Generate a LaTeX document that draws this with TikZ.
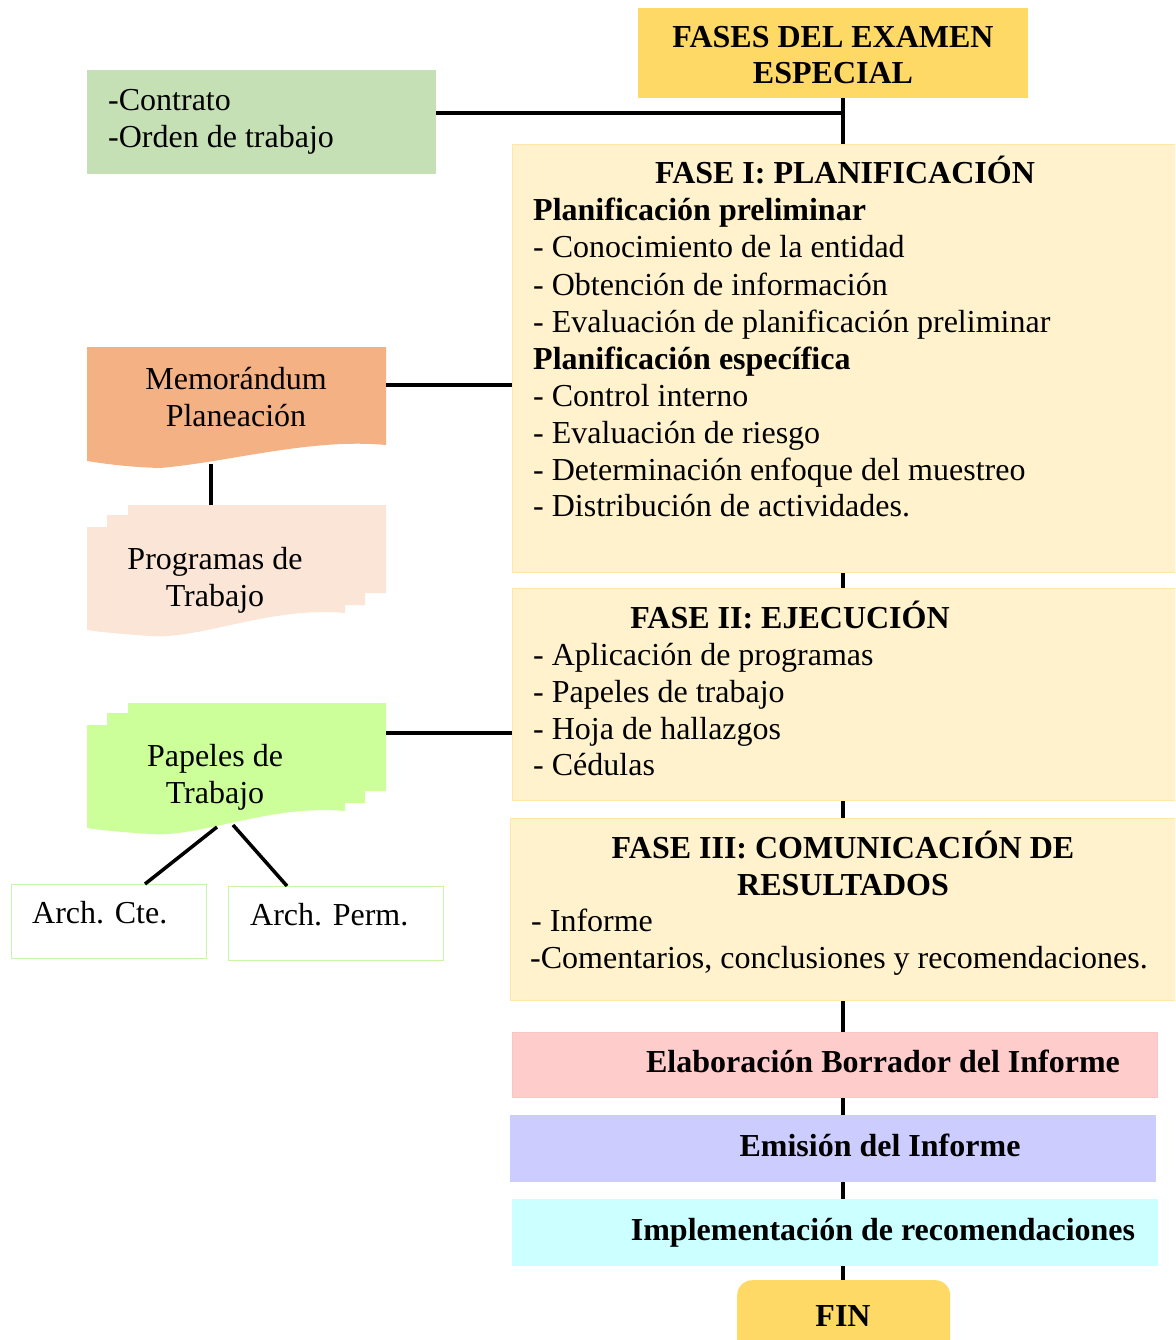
\documentclass[tikz,border=0pt]{standalone}
\usepackage{fontspec}
\setmainfont{Liberation Serif}
\definecolor{gold}{HTML}{FFD966}
\definecolor{contr}{HTML}{C5E0B4}
\definecolor{phase}{HTML}{FFF2CC}
\definecolor{phaseb}{HTML}{FFE8A6}
\definecolor{memoc}{HTML}{F4B183}
\definecolor{progc}{HTML}{FBE5D6}
\definecolor{papc}{HTML}{CCFF99}
\definecolor{archb}{HTML}{C8F5A8}
\definecolor{elab}{HTML}{FFCCCC}
\definecolor{emis}{HTML}{CCCCFF}
\definecolor{impl}{HTML}{CCFFFF}
\begin{document}
\begin{tikzpicture}[x=1pt,y=-1pt,
  t/.style={font=\fontsize{32}{37}\selectfont, inner sep=0pt, anchor=base west},
  tc/.style={t, anchor=base},
  tb/.style={t, font=\fontsize{32}{37}\selectfont\bfseries},
  tbc/.style={tb, anchor=base},
  conn/.style={line width=3.5pt, black},
  box/.style={rectangle, inner sep=0pt, anchor=north west},
]
\useasboundingbox (0,0) rectangle (1175,1340);
\clip (0,0) rectangle (1175,1340);

% ---------- boxes ----------
\node[box, fill=gold, minimum width=390pt, minimum height=90pt] (title) at (638,8) {};
\node[box, fill=contr, minimum width=349pt, minimum height=104pt] (contrato) at (87,70) {};
\node[box, fill=phase, draw=phaseb, line width=1pt, minimum width=663pt, minimum height=428pt] (f1) at (512,144) {};
\node[box, fill=phase, draw=phaseb, line width=1pt, minimum width=663pt, minimum height=212pt] (f2) at (512,588) {};
\node[box, fill=phase, draw=phaseb, line width=1pt, minimum width=665pt, minimum height=182pt] (f3) at (510,818) {};
\node[box, fill=elab, draw=elab!85!black!20!elab, line width=0.8pt, minimum width=645pt, minimum height=65pt] (elab) at (512,1032) {};
\node[box, fill=emis, draw=emis, line width=0.8pt, minimum width=645pt, minimum height=66pt] (emis) at (510,1115) {};
\node[box, fill=impl, draw=impl, line width=0.8pt, minimum width=645pt, minimum height=66pt] (impl) at (512,1199) {};
\node[box, fill=gold, rounded corners=15pt, minimum width=213pt, minimum height=90pt] (fin) at (737,1280) {};
\node[box, draw=archb, line width=1.2pt, fill=white, minimum width=195pt, minimum height=74pt] (cte) at (11,884) {};
\node[box, draw=archb, line width=1.2pt, fill=white, minimum width=215pt, minimum height=74pt] (perm) at (228,886) {};

% ---------- document shapes ----------
\fill[memoc] (87,347) -- (386,347) -- (386,445)
  .. controls (310,438) and (230,462) .. (160,468)
  .. controls (125,467) and (100,463) .. (87,461) -- cycle;
\node[box, minimum width=299pt, minimum height=98pt] (memo) at (87,347) {};

\fill[progc] (87,527) -- (107,527) -- (107,515) -- (128,515) -- (128,505) -- (386,505)
  -- (386,593) -- (365,593) -- (365,605) -- (345,605) -- (345,613)
  .. controls (270,606) and (200,640) .. (150,636)
  .. controls (120,634) and (100,632) .. (87,630) -- cycle;
\node[box, minimum width=299pt, minimum height=88pt] (prog) at (87,505) {};

\fill[papc] (87,725) -- (107,725) -- (107,713) -- (128,713) -- (128,703) -- (386,703)
  -- (386,791) -- (365,791) -- (365,803) -- (345,803) -- (345,811)
  .. controls (270,804) and (200,838) .. (150,834)
  .. controls (120,832) and (100,830) .. (87,828) -- cycle;
\node[box, minimum width=299pt, minimum height=88pt] (pap) at (87,703) {};

% ---------- connectors ----------
\coordinate (j1) at (843,113);
\coordinate (m1) at (386,385);
\coordinate (mb) at (211,464);
\coordinate (p1) at (386,733);
\coordinate (pb1) at (217,827);
\coordinate (pb2) at (233,825);
\coordinate (ct) at (145,884);
\coordinate (pt) at (287,886);
\draw[conn] (contrato.east |- j1) -- (j1);
\draw[conn] (title.south -| j1) -- (f1.north -| j1);
\draw[conn] (m1) -- (m1 -| f1.west);
\draw[conn] (mb) -- (mb |- prog.north);
\draw[conn] (p1) -- (p1 -| f2.west);
\draw[conn] (pb1) -- (ct);
\draw[conn] (pb2) -- (pt);
\draw[conn] (f1.south -| j1) -- (f2.north -| j1);
\draw[conn] (f2.south -| j1) -- (f3.north -| j1);
\draw[conn] (f3.south -| j1) -- (elab.north -| j1);
\draw[conn] (elab.south -| j1) -- (emis.north -| j1);
\draw[conn] (emis.south -| j1) -- (impl.north -| j1);
\draw[conn] (impl.south -| j1) -- (fin.north -| j1);

% ---------- texts ----------
\node[tbc] (tt1) at (833,48) {FASES DEL EXAMEN};
\node[tbc] (tt2) at (833,84) {ESPECIAL};

\node[t] (c1) at (108,111) {-Contrato};
\node[t] (c2) at (108,148) {-Orden de trabajo};

\node[tbc] (a0) at (845,184) {FASE I: PLANIFICACIÓN};
\node[tb] (a1) at (533,221) {Planificación preliminar};
\node[t] (a2) at (533,258) {- Conocimiento de la entidad};
\node[t] (a3) at (533,295) {- Obtención de información};
\node[t] (a4) at (533,332) {- Evaluación de planificación preliminar};
\node[tb] (a5) at (533,369) {Planificación específica};
\node[t] (a6) at (533,406) {- Control interno};
\node[t] (a7) at (533,443) {- Evaluación de riesgo};
\node[t] (a8) at (533,480) {- Determinación enfoque del muestreo};
\node[t] (a9) at (533,516) {- Distribución de actividades.};

\node[tc] (m2) at (236,389) {Memorándum};
\node[tc] (m3) at (236,426) {Planeación};

\node[tc] (g1) at (215,569) {Programas de};
\node[tc] (g2) at (215,606) {Trabajo};

\node[tbc] (b0) at (790,628) {FASE II: EJECUCIÓN};
\node[t] (b1) at (533,665) {- Aplicación de programas};
\node[t] (b2) at (533,702) {- Papeles de trabajo};
\node[t] (b3) at (533,739) {- Hoja de hallazgos};
\node[t] (b4) at (533,775) {- Cédulas};

\node[tc] (q1) at (215,766) {Papeles de};
\node[tc] (q2) at (215,803) {Trabajo};

\node[tbc] (d0) at (843,858) {FASE III: COMUNICACIÓN DE};
\node[tbc] (d1) at (843,895) {RESULTADOS};
\node[t] (d2) at (531,931) {- Informe};
\node[t] (d3) at (530,968) {-Comentarios, conclusiones y recomendaciones.};

\node[t] (e1) at (32,923) {Arch. Cte.};
\node[t] (e2) at (250,925) {Arch. Perm.};

\node[tbc] (h1) at (883,1072) {Elaboración Borrador del Informe};
\node[tbc] (h2) at (880,1156) {Emisión del Informe};
\node[tbc] (h3) at (883,1240) {Implementación de recomendaciones};
\node[tbc] (h4) at (843,1326) {FIN};
\end{tikzpicture}
\end{document}
